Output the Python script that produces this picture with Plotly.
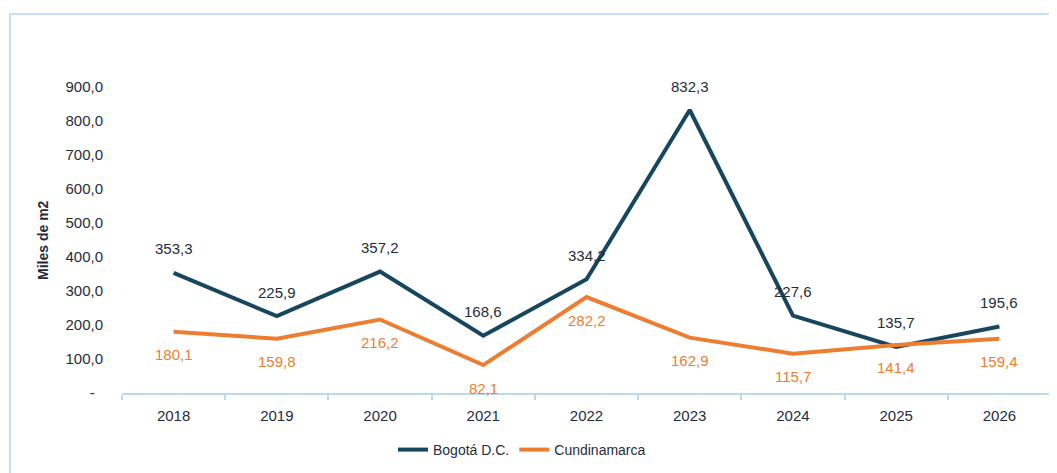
import plotly.graph_objects as go

years = ["2018", "2019", "2020", "2021", "2022", "2023", "2024", "2025", "2026"]
bogota = [353.3, 225.9, 357.2, 168.6, 334.2, 832.3, 227.6, 135.7, 195.6]
cundinamarca = [180.1, 159.8, 216.2, 82.1, 282.2, 162.9, 115.7, 141.4, 159.4]
yticks = [0, 100, 200, 300, 400, 500, 600, 700, 800, 900]
yticklabels = ["-  "] + [f"{v:.1f}".replace(".", ",") for v in yticks[1:]]

C_BOG = "#17475E"
C_CUN = "#ED7D31"
C_TXT = "#1F2D3D"
FONT = "Liberation Sans"

def fmt(v):
    return f"{v:.1f}".replace(".", ",")

fig = go.Figure()
fig.add_trace(go.Scatter(x=years, y=bogota, mode="lines", name="Bogotá D.C.",
                         line=dict(color=C_BOG, width=4)))
fig.add_trace(go.Scatter(x=years, y=cundinamarca, mode="lines", name="Cundinamarca",
                         line=dict(color=C_CUN, width=4)))

for i, v in enumerate(bogota):
    fig.add_annotation(x=i, y=v, xref="x", yref="y", text=fmt(v), showarrow=False, yshift=24,
                       font=dict(family=FONT, size=15, color=C_TXT))
for i, v in enumerate(cundinamarca):
    fig.add_annotation(x=i, y=v, xref="x", yref="y", text=fmt(v), showarrow=False, yshift=-23,
                       font=dict(family=FONT, size=15, color=C_CUN))

OFF = 8  # page body margin
L, R, T, B = 122 - OFF, 1051 - OFF, 53 - OFF, 393 - OFF
W, H = 1057, 473
pw, ph = R - L, B - T

def px_x(p):
    return (p - OFF - L) / pw

def px_y(p):
    return (B - (p - OFF)) / ph

fig.add_shape(type="rect", xref="paper", yref="paper",
              x0=px_x(10), x1=px_x(1200), y0=px_y(14), y1=px_y(600),
              line=dict(color="#C9DDF0", width=2), fillcolor="rgba(0,0,0,0)", layer="below")

fig.add_annotation(xref="paper", yref="paper", x=px_x(43), y=px_y(240), text="<b>Miles de m2</b>",
                   textangle=-90, showarrow=False, xanchor="center", yanchor="middle",
                   font=dict(family=FONT, size=14, color=C_TXT))

fig.update_layout(
    width=W, height=H,
    margin=dict(l=L, r=W - R, t=T, b=H - B, autoexpand=False),
    paper_bgcolor="white", plot_bgcolor="white",
    font=dict(family=FONT, size=14, color=C_TXT),
    showlegend=True,
    legend=dict(orientation="h", x=px_x(522), xanchor="center", y=px_y(450), yanchor="middle",
                font=dict(family=FONT, size=14, color=C_TXT), itemwidth=30,
                tracegroupgap=0),
    xaxis=dict(type="category", showgrid=False, zeroline=False,
               showline=True, linecolor="#BDD7EE", linewidth=2,
               ticks="outside", ticklen=5, tickcolor="#BDD7EE", tickwidth=1.5,
               tickson="boundaries", ticklabelstandoff=8,
               tickfont=dict(family=FONT, size=15, color=C_TXT),
               range=[-0.5, 8.5]),
    yaxis=dict(range=[0, 1000], tickvals=yticks, ticktext=yticklabels,
               showgrid=False, zeroline=False, showline=False,
               ticks="", ticklabelstandoff=18,
               tickfont=dict(family=FONT, size=15, color=C_TXT)),
)

fig.write_html("out.html")
